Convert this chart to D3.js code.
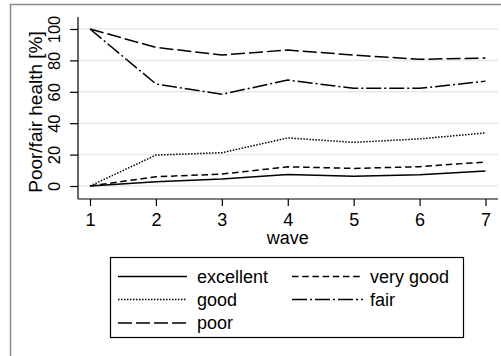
<!DOCTYPE html>
<html>
<head>
<meta charset="utf-8">
<script src="https://cdn.jsdelivr.net/npm/d3@7"></script>
<style>
  body { margin: 0; background: #fff; }
  svg { display: block; font-family: "Liberation Sans", Arial, sans-serif; }
</style>
</head>
<body>
<div id="chart"></div>
<script>
const waves = [1, 2, 3, 4, 5, 6, 7];
const excellent = [0, 2.7, 4.5, 7.3, 6.2, 7.2, 9.5];
const veryGood = [0, 5.9, 7.6, 12.2, 11.2, 12.3, 15.3];
const good = [0, 19.7, 21.2, 30.6, 27.8, 30.0, 33.8];
const fair = [100, 65.0, 58.4, 67.5, 62.2, 62.2, 66.8];
const poor = [100, 88.3, 83.4, 86.6, 83.4, 80.7, 81.5];
const yTicks = [0, 20, 40, 60, 80, 100];

const series = [
  { name: 'excellent', values: excellent, dash: null },
  { name: 'very good', values: veryGood, dash: '6.5,3.7' },
  { name: 'good', values: good, dash: '1.5,1.5' },
  { name: 'fair', values: fair, dash: '15,3,2,3' },
  { name: 'poor', values: poor, dash: '14,4' }
];

const width = 501, height = 356;
const svg = d3.select('#chart').append('svg')
  .attr('width', width)
  .attr('height', height);

// outer frame (cut off at right/bottom)
svg.append('path')
  .attr('d', 'M10.5,' + height + 'V4.5H' + width)
  .attr('fill', 'none')
  .attr('stroke', '#8c8c8c')
  .attr('stroke-width', 1.5);

const x = d3.scaleLinear().domain([1, 7]).range([90, 485.5]);
const y = d3.scaleLinear().domain([0, 100]).range([186, 29]);
const plotLeft = 78, plotRight = 498, plotTop = 17, plotBottom = 199;

// gridlines
svg.append('g')
  .selectAll('line')
  .data(yTicks)
  .join('line')
  .attr('x1', plotLeft)
  .attr('x2', plotRight)
  .attr('y1', d => y(d))
  .attr('y2', d => y(d))
  .attr('stroke', '#e8e8e8')
  .attr('stroke-width', 1.5);

// y axis
const yAxis = svg.append('g')
  .attr('transform', `translate(${plotLeft},0)`)
  .call(d3.axisLeft(y).tickValues(yTicks).tickSize(8).tickPadding(4));
yAxis.select('.domain').attr('d', `M0,${plotTop}V${plotBottom}`).attr('stroke', '#000').attr('stroke-width', 1.2);
yAxis.selectAll('.tick line').attr('stroke', '#000').attr('stroke-width', 1.2);
yAxis.selectAll('.tick text')
  .attr('font-size', 16.5)
  .attr('fill', '#000')
  .attr('text-anchor', 'middle')
  .attr('transform', 'rotate(-90)')
  .attr('x', 0)
  .attr('y', -24)
  .attr('dy', '0.35em');

// x axis
const xAxis = svg.append('g')
  .attr('transform', `translate(0,${plotBottom})`)
  .call(d3.axisBottom(x).tickValues(waves).tickFormat(d3.format('d')).tickSize(7).tickPadding(7));
xAxis.select('.domain').attr('d', `M${plotLeft},0H${plotRight}`).attr('stroke', '#000').attr('stroke-width', 1.2);
xAxis.selectAll('.tick line').attr('stroke', '#000').attr('stroke-width', 1.2);
xAxis.selectAll('.tick text').attr('font-size', 18).attr('fill', '#000');

// axis titles
svg.append('text')
  .attr('x', x(4))
  .attr('y', 244)
  .attr('text-anchor', 'middle')
  .attr('font-size', 18)
  .text('wave');

svg.append('text')
  .attr('transform', 'translate(35,112) rotate(-90)')
  .attr('text-anchor', 'middle')
  .attr('dy', '0.35em')
  .attr('font-size', 19)
  .text('Poor/fair health [%]');

// lines
const line = d3.line()
  .x((d, i) => x(waves[i]))
  .y(d => y(d));

svg.append('g')
  .selectAll('path')
  .data(series)
  .join('path')
  .attr('d', d => line(d.values))
  .attr('fill', 'none')
  .attr('stroke', '#000')
  .attr('stroke-width', 1.5)
  .attr('stroke-dasharray', d => d.dash);

// legend
const legend = svg.append('g');
legend.append('rect')
  .attr('x', 110.5)
  .attr('y', 257.5)
  .attr('width', 353)
  .attr('height', 80)
  .attr('fill', '#fff')
  .attr('stroke', '#000')
  .attr('stroke-width', 1.2);

const cols = [{ x1: 118, x2: 187, tx: 197 }, { x1: 292, x2: 363, tx: 370 }];
const rows = [276.5, 299.5, 323];
const items = legend.selectAll('g.item')
  .data(series)
  .join('g')
  .attr('class', 'item');

items.append('line')
  .attr('x1', (d, i) => cols[i % 2].x1)
  .attr('x2', (d, i) => cols[i % 2].x2)
  .attr('y1', (d, i) => rows[Math.floor(i / 2)])
  .attr('y2', (d, i) => rows[Math.floor(i / 2)])
  .attr('stroke', '#000')
  .attr('stroke-width', 1.5)
  .attr('stroke-dasharray', d => d.dash);

items.append('text')
  .attr('x', (d, i) => cols[i % 2].tx)
  .attr('y', (d, i) => rows[Math.floor(i / 2)])
  .attr('dy', '0.35em')
  .attr('font-size', 18)
  .text(d => d.name);
</script>
</body>
</html>
